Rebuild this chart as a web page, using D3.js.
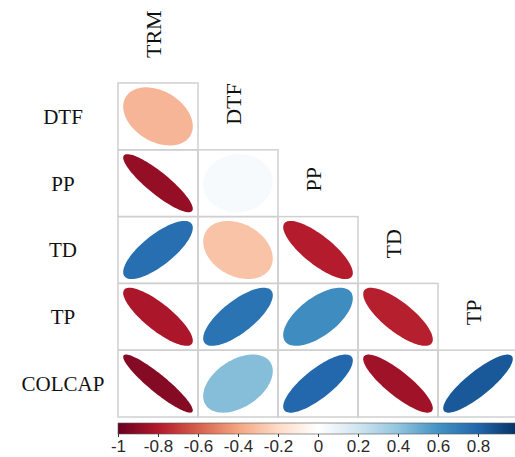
<!DOCTYPE html>
<html>
<head>
<meta charset="utf-8">
<script src="https://cdn.jsdelivr.net/npm/d3@7"></script>
<style>
  html, body { margin: 0; padding: 0; background: #fff; }
  svg { display: block; }
</style>
</head>
<body>
<svg id="chart" width="515" height="457"></svg>
<script>
// ---- data ----
const columns = ["TRM", "DTF", "PP", "TD", "TP"];
const rows = ["DTF", "PP", "TD", "TP", "COLCAP"];
// lower-triangle correlations, one list per row (values for columns 0..rowIndex)
const rDTF = [-0.34];
const rPP = [-0.88, 0.04];
const rTD = [0.76, -0.29, -0.79];
const rTP = [-0.82, 0.74, 0.63, -0.78];
const rCOLCAP = [-0.92, 0.43, 0.79, -0.85, 0.85];
const corrRows = [rDTF, rPP, rTD, rTP, rCOLCAP];
const colorStops = ["#67001F", "#B2182B", "#D6604D", "#F4A582", "#FDDBC7", "#FFFFFF",
                    "#D1E5F0", "#92C5DE", "#4393C3", "#2166AC", "#053061"];
const legendTicks = [-1, -0.8, -0.6, -0.4, -0.2, 0, 0.2, 0.4, 0.6, 0.8, 1];
const legendLabels = ["-1", "-0.8", "-0.6", "-0.4", "-0.2", "0", "0.2", "0.4", "0.6", "0.8", "1"];

// ---- layout ----
const svg = d3.select("#chart");
const x = d3.scaleBand().domain(columns).range([118, 518]);
const y = d3.scaleBand().domain(rows).range([83, 417]);
const color = d3.scaleLinear()
  .domain(d3.range(colorStops.length).map(i => -1 + 2 * i / (colorStops.length - 1)))
  .range(colorStops)
  .interpolate(d3.interpolateRgb);

const cells = [];
rows.forEach((rn, i) => {
  corrRows[i].forEach((r, j) => cells.push({ row: rn, col: columns[j], r }));
});

// grid
svg.append("g").selectAll("rect").data(cells).join("rect")
  .attr("x", d => x(d.col))
  .attr("y", d => y(d.row))
  .attr("width", x.bandwidth())
  .attr("height", y.bandwidth())
  .attr("fill", "none")
  .attr("stroke", "#d0d0d0")
  .attr("stroke-width", 1.5);

// ellipses (corrplot style)
const ellScale = 0.87;
function ellipsePath(d) {
  const a = Math.acos(d.r);
  const cx = x(d.col) + x.bandwidth() / 2;
  const cy = y(d.row) + y.bandwidth() / 2;
  const hw = x.bandwidth() * ellScale / 2;
  const hh = y.bandwidth() * ellScale / 2;
  const pts = d3.range(0, 100).map(k => {
    const t = 2 * Math.PI * k / 100;
    return [cx + hw * Math.cos(t + a / 2), cy - hh * Math.cos(t - a / 2)];
  });
  return d3.line().curve(d3.curveLinearClosed)(pts);
}
svg.append("g").selectAll("path").data(cells).join("path")
  .attr("d", ellipsePath)
  .attr("fill", d => color(d.r));

// row labels
svg.append("g").selectAll("text").data(rows).join("text")
  .attr("x", 63)
  .attr("y", d => y(d) + y.bandwidth() / 2)
  .attr("dy", "0.35em")
  .attr("text-anchor", "middle")
  .attr("font-family", "Liberation Serif, serif")
  .attr("font-size", 21)
  .attr("fill", "#111")
  .text(d => d);

// column labels (rotated)
svg.append("g").selectAll("text").data(columns).join("text")
  .attr("transform", (d, j) => {
    const cx = x(d) + x.bandwidth() / 2 - 5;
    const top = y(rows[j]) - 25;
    return `translate(${cx},${top}) rotate(-90)`;
  })
  .attr("dy", "0.35em")
  .attr("text-anchor", "start")
  .attr("font-family", "Liberation Serif, serif")
  .attr("font-size", 22)
  .attr("fill", "#111")
  .text(d => d);

// color legend
const lx = d3.scaleLinear().domain([-1, 1]).range([118, 518]);
const defs = svg.append("defs");
const grad = defs.append("linearGradient").attr("id", "cbar")
  .attr("x1", "0%").attr("x2", "100%").attr("y1", "0%").attr("y2", "0%");
grad.selectAll("stop").data(colorStops).join("stop")
  .attr("offset", (d, i) => (i / (colorStops.length - 1) * 100) + "%")
  .attr("stop-color", d => d);
svg.append("rect")
  .attr("x", lx(-1)).attr("y", 423)
  .attr("width", lx(1) - lx(-1)).attr("height", 11)
  .attr("fill", "url(#cbar)")
  .attr("stroke", "#555").attr("stroke-width", 0.6);

const axis = d3.axisBottom(lx).tickValues(legendTicks)
  .tickFormat((d, i) => legendLabels[i])
  .tickSize(3).tickPadding(3);
const ag = svg.append("g").attr("transform", "translate(0,434)").call(axis);
ag.select(".domain").remove();
ag.selectAll(".tick line").attr("stroke", "#333");
ag.selectAll(".tick text")
  .attr("font-family", "Liberation Sans, Arial, sans-serif")
  .attr("font-size", 17)
  .attr("fill", "#2a2a2a");
</script>
</body>
</html>
